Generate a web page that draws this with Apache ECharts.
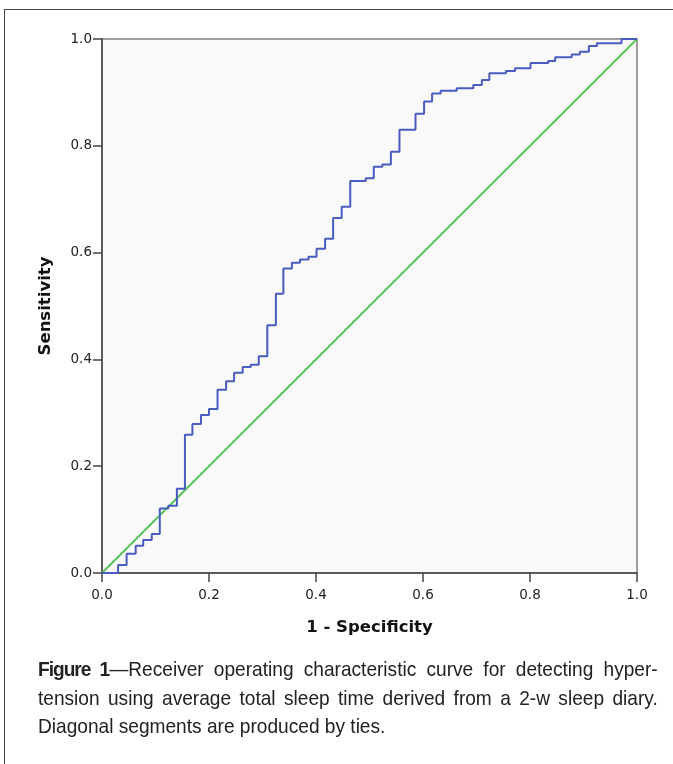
<!DOCTYPE html>
<html>
<head>
<meta charset="utf-8">
<script src="https://cdn.jsdelivr.net/npm/echarts@6/dist/echarts.min.js"></script>
<style>
  html, body { margin: 0; padding: 0; background: #fff; }
  #frame { position: absolute; left: 4px; top: 9px; width: 700px; height: 800px; border: 1px solid #444; box-sizing: border-box; }
  #chart-container { position: absolute; left: 0; top: 0; width: 673px; height: 764px; }
  #caption { position: absolute; left: 38px; top: 655px; width: 681px; transform: scaleX(0.91); transform-origin: 0 0; font-family: "Liberation Sans", Arial, sans-serif; font-size: 21px; line-height: 28.6px; color: #222; text-align: justify; text-align-last: left; }
  #caption b { letter-spacing: -1.1px; }
</style>
</head>
<body>
<div id="frame"></div>
<div id="chart-container"></div>
<div id="caption"><b>Figure 1</b>—Receiver operating characteristic curve for detecting hyper-tension using average total sleep time derived from a 2-w sleep diary. Diagonal segments are produced by ties.</div>
<script>
// ROC points (1 - specificity, sensitivity); drawn as a step curve
var fpr = [0, 0.030, 0.046, 0.063, 0.077, 0.093, 0.108, 0.124, 0.140, 0.155,
  0.169, 0.185, 0.200, 0.216, 0.232, 0.247, 0.263, 0.278, 0.293, 0.309,
  0.325, 0.339, 0.355, 0.370, 0.386, 0.401, 0.417, 0.432, 0.448, 0.464,
  0.493, 0.508, 0.524, 0.540, 0.556, 0.586, 0.602, 0.617, 0.633, 0.663,
  0.694, 0.710, 0.724, 0.755, 0.772, 0.801, 0.834, 0.847, 0.878, 0.893,
  0.910, 0.925, 0.971, 1.0];
var tpr = [0, 0.015, 0.036, 0.051, 0.062, 0.073, 0.121, 0.126, 0.158, 0.259,
  0.279, 0.296, 0.307, 0.343, 0.359, 0.375, 0.386, 0.390, 0.406, 0.464,
  0.523, 0.570, 0.581, 0.587, 0.592, 0.607, 0.626, 0.665, 0.686, 0.734,
  0.739, 0.761, 0.765, 0.789, 0.830, 0.860, 0.883, 0.898, 0.903, 0.908,
  0.914, 0.923, 0.936, 0.940, 0.945, 0.955, 0.959, 0.966, 0.971, 0.976,
  0.987, 0.992, 1.0, 1.0];
var refX = [0, 1];
var refY = [0, 1];

var dom = document.getElementById("chart-container");
var myChart = echarts.init(dom, null, { renderer: "canvas" });

var rocData = fpr.map(function (x, i) { return [x, tpr[i]]; });
var refData = refX.map(function (x, i) { return [x, refY[i]]; });

var labelFont = { fontFamily: "DejaVu Sans, sans-serif", fontSize: 13.5, color: "#222" };
var nameFont = { fontFamily: "DejaVu Sans, sans-serif", fontSize: 16.5, fontWeight: "bold", color: "#111" };
var fmt = function (v) { return v.toFixed(1); };

var option = {
  animation: false,
  grid: {
    left: 102, top: 39, right: 36, bottom: 191,
    show: true, backgroundColor: "#f9f9f9", borderColor: "#808080", borderWidth: 1.5
  },
  xAxis: {
    type: "value", min: 0, max: 1, interval: 0.2,
    name: "1 - Specificity", nameLocation: "middle", nameGap: 46,
    nameTextStyle: nameFont,
    axisLine: { show: true, lineStyle: { color: "#444", width: 1.5 } },
    axisTick: { show: true, length: 9, lineStyle: { color: "#444", width: 1.5 } },
    axisLabel: Object.assign({ margin: 15, formatter: fmt }, labelFont),
    splitLine: { show: false }
  },
  yAxis: {
    type: "value", min: 0, max: 1, interval: 0.2,
    name: "Sensitivity", nameLocation: "middle", nameGap: 48,
    nameTextStyle: nameFont,
    axisLine: { show: true, lineStyle: { color: "#444", width: 1.5 } },
    axisTick: { show: true, length: 9, lineStyle: { color: "#444", width: 1.5 } },
    axisLabel: Object.assign({ margin: 10, formatter: fmt }, labelFont),
    splitLine: { show: false }
  },
  series: [
    {
      name: "Reference", type: "line", data: refData, symbol: "none",
      lineStyle: { color: "#55c455", width: 1.8 }, z: 2
    },
    {
      name: "ROC", type: "line", data: rocData, step: "end", symbol: "none",
      lineStyle: { color: "#4a5cc0", width: 2 }, z: 3
    }
  ]
};

myChart.setOption(option);
window.addEventListener("resize", myChart.resize);
</script>
</body>
</html>
